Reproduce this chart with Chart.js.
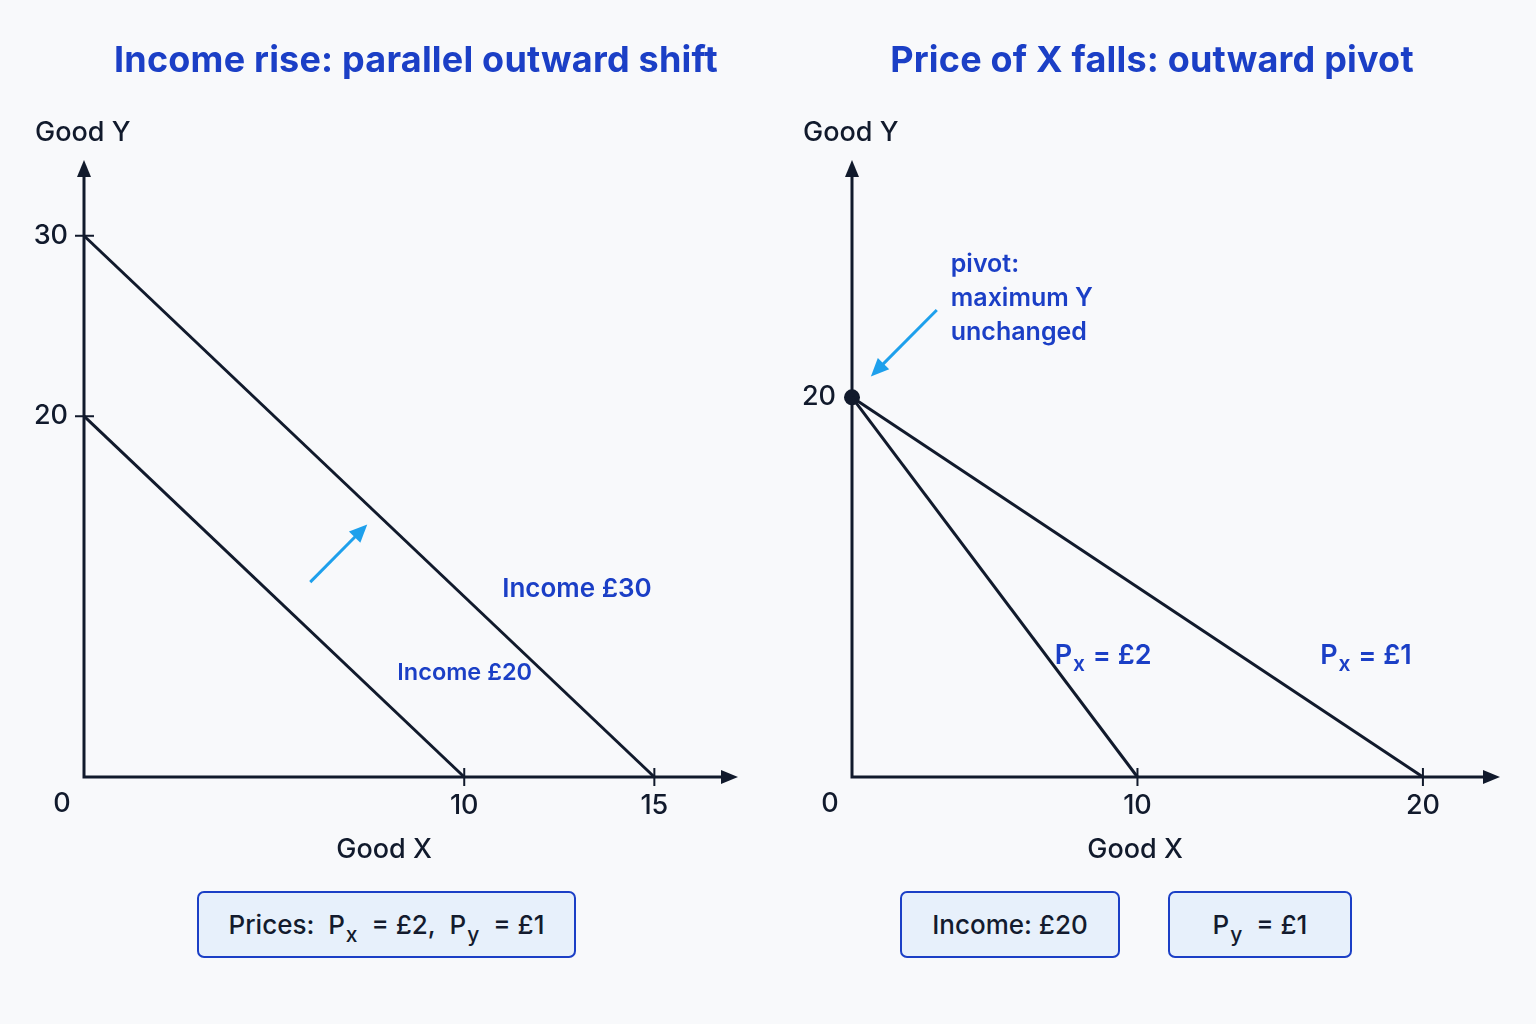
<!DOCTYPE html>
<html>
<head>
<meta charset="utf-8">
<script src="https://cdn.jsdelivr.net/npm/chart.js@4.4.1/dist/chart.umd.min.js"></script>
<style>
  html, body { margin: 0; padding: 0; background: #f8f9fb; }
  body { width: 1536px; height: 1024px; position: relative; overflow: hidden; font-family: Inter, "Noto Sans", sans-serif; }
  .panel { position: absolute; top: 0; width: 768px; height: 1024px; }
  .panel canvas { position: absolute; left: 0; top: 0; }
  .title { position: absolute; top: 37px; width: 768px; text-align: center; color: #1b3fc6; font-weight: 700; font-size: 36px; letter-spacing: 0.2px; }
  .box { position: absolute; top: 891px; height: 63px; border: 2px solid #1b3fc6; border-radius: 7px; background: #e7f0fb;
         color: #131b2e; font-size: 26px; font-weight: 500; display: flex; align-items: center; justify-content: center; box-sizing: content-box; }
  .box span { display: inline-block; white-space: nowrap; }
  .box sub { font-size: 21px; vertical-align: -8px; line-height: 0; margin-left: 1px; }
</style>
</head>
<body>

<div class="panel" style="left:0">
  <canvas id="leftChart" width="768" height="1024"></canvas>
  <div class="title" style="left:32px">Income rise: parallel outward shift</div>
  <div class="box" style="left:197px; width:375px;"><span>Prices:&nbsp; P<sub>x</sub>&nbsp; =&nbsp;£2,&nbsp; P<sub>y</sub>&nbsp; =&nbsp;£1</span></div>
</div>

<div class="panel" style="left:768px">
  <canvas id="rightChart" width="768" height="1024"></canvas>
  <div class="title" style="left:0px">Price of X falls: outward pivot</div>
  <div class="box" style="left:132px; width:216px;"><span>Income: £20</span></div>
  <div class="box" style="left:400px; width:180px;"><span>P<sub>y</sub>&nbsp; =&nbsp;£1</span></div>
</div>

<script>
// Budget lines: income shift (left) and price pivot (right)

// ====== DATA ======

// left panel: Px = £2, Py = £1
const leftXTicks = [10, 15];
const leftYTicks = [20, 30];
const income20X = [0, 10];
const income20Y = [20, 0];
const income30X = [0, 15];
const income30Y = [30, 0];

// right panel: income £20, Py = £1
const rightXTicks = [10, 20];
const rightYTicks = [20];
const px2X = [0, 10];
const px2Y = [20, 0];
const px1X = [0, 20];
const px1Y = [20, 0];
const pivotPoint = { x: 0, y: 20 };

// ====== STYLE ======

const INK = '#111a2c';
const BLUE = '#1b3fc6';
const ARROW = '#1ea0ec';
const FONT = 'Inter, "Noto Sans", sans-serif';

const toPoints = (xs, ys) => xs.map((x, i) => ({ x, y: ys[i] }));

function lineSet(xs, ys) {
  return {
    data: toPoints(xs, ys),
    showLine: true,
    borderColor: INK,
    borderWidth: 3,
    pointRadius: 0,
    clip: false,
  };
}

function arrowHead(ctx, x1, y1, x2, y2, len, half, color) {
  const a = Math.atan2(y2 - y1, x2 - x1);
  ctx.fillStyle = color;
  ctx.beginPath();
  ctx.moveTo(x2, y2);
  ctx.lineTo(x2 - len * Math.cos(a) + half * Math.sin(a), y2 - len * Math.sin(a) - half * Math.cos(a));
  ctx.lineTo(x2 - len * Math.cos(a) - half * Math.sin(a), y2 - len * Math.sin(a) + half * Math.cos(a));
  ctx.closePath();
  ctx.fill();
}

// "P" with a subscript, then the rest
function subLabel(ctx, x, y, main, sub, rest, size) {
  ctx.textAlign = 'left';
  ctx.textBaseline = 'middle';
  ctx.font = `600 ${size}px ${FONT}`;
  ctx.fillText(main, x, y);
  let cx = x + ctx.measureText(main).width;
  ctx.font = `600 ${Math.round(size * 0.78)}px ${FONT}`;
  ctx.fillText(sub, cx + 1, y + size * 0.35);
  cx += ctx.measureText(sub).width + 2;
  ctx.font = `600 ${size}px ${FONT}`;
  ctx.fillText(rest, cx, y);
}

// axes, tick marks, tick labels, annotations — all placed through the chart scales
const axesPlugin = {
  id: 'econAxes',
  beforeDatasetsDraw(chart, args, opts) {
    const { ctx, scales: { x, y } } = chart;
    const ox = x.getPixelForValue(0), oy = y.getPixelForValue(0);
    const top = chart.chartArea.top, right = chart.chartArea.right;
    ctx.save();
    ctx.strokeStyle = INK;
    ctx.lineWidth = 3;
    ctx.beginPath();
    ctx.moveTo(ox, oy + 1.5);
    ctx.lineTo(ox, top + 12);
    ctx.moveTo(ox - 1.5, oy);
    ctx.lineTo(right - 12, oy);
    ctx.stroke();
    arrowHead(ctx, ox, oy, ox, top, 17, 7, INK);
    arrowHead(ctx, ox, oy, right, oy, 17, 7, INK);

    ctx.lineWidth = 2;
    ctx.beginPath();
    opts.yTicks.forEach(v => {
      const py = y.getPixelForValue(v);
      if (opts.yTickMarks) { ctx.moveTo(ox - 9, py); ctx.lineTo(ox + 10, py); }
    });
    opts.xTicks.forEach(v => {
      const px = x.getPixelForValue(v);
      ctx.moveTo(px, oy - 9); ctx.lineTo(px, oy + 9);
    });
    ctx.stroke();

    ctx.fillStyle = INK;
    ctx.font = `500 27px ${FONT}`;
    ctx.textBaseline = 'middle';
    ctx.textAlign = 'right';
    opts.yTicks.forEach(v => ctx.fillText(String(v), ox - 16, y.getPixelForValue(v)));
    ctx.textAlign = 'center';
    opts.xTicks.forEach(v => ctx.fillText(String(v), x.getPixelForValue(v), oy + 29));
    ctx.fillText('0', ox - 22, oy + 27);
    ctx.fillText('Good X', opts.xTitleX, oy + 73);
    ctx.textAlign = 'left';
    ctx.fillText('Good Y', ox - 49, top - 27);
    ctx.restore();
  },
  afterDatasetsDraw(chart, args, opts) {
    const { ctx, scales: { x, y } } = chart;
    ctx.save();
    // blue annotation arrow
    const a = opts.arrow;
    const x1 = x.getPixelForValue(a[0].x), y1 = y.getPixelForValue(a[0].y);
    const x2 = x.getPixelForValue(a[1].x), y2 = y.getPixelForValue(a[1].y);
    ctx.strokeStyle = ARROW;
    ctx.lineWidth = 3;
    ctx.beginPath();
    ctx.moveTo(x1, y1);
    const ang = Math.atan2(y2 - y1, x2 - x1);
    ctx.lineTo(x2 - 12 * Math.cos(ang), y2 - 12 * Math.sin(ang));
    ctx.stroke();
    arrowHead(ctx, x1, y1, x2, y2, 18, 8, ARROW);

    // line labels
    ctx.fillStyle = BLUE;
    opts.labels.forEach(l => {
      const px = x.getPixelForValue(l.x), py = y.getPixelForValue(l.y);
      if (l.sub) {
        subLabel(ctx, px, py, l.text, l.sub, l.rest, l.size);
      } else {
        ctx.font = `600 ${l.size}px ${FONT}`;
        ctx.textAlign = 'left';
        ctx.textBaseline = 'middle';
        l.text.split('\n').forEach((t, i) => ctx.fillText(t, px, py + i * 34));
      }
    });
    ctx.restore();
  }
};

Chart.defaults.font.family = FONT;

new Chart(document.getElementById('leftChart'), {
  type: 'scatter',
  data: {
    datasets: [lineSet(income20X, income20Y), lineSet(income30X, income30Y)]
  },
  options: {
    responsive: false,
    animation: false,
    devicePixelRatio: 1,
    layout: { padding: { left: 84, top: 160, right: 30, bottom: 247 } },
    plugins: {
      legend: { display: false },
      tooltip: { enabled: false },
      econAxes: {
        xTicks: leftXTicks,
        yTicks: leftYTicks,
        yTickMarks: true,
        xTitleX: 384,
        arrow: [{ x: 5.95, y: 10.8 }, { x: 7.45, y: 14.0 }],
        labels: [
          { text: 'Income £30', x: 11.0, y: 10.4, size: 26 },
          { text: 'Income £20', x: 8.24, y: 5.76, size: 23.5 },
        ]
      }
    },
    scales: {
      x: { type: 'linear', display: false, min: 0, max: 17.2 },
      y: { type: 'linear', display: false, min: 0, max: 34.2 }
    }
  },
  plugins: [axesPlugin]
});

new Chart(document.getElementById('rightChart'), {
  type: 'scatter',
  data: {
    datasets: [
      lineSet(px2X, px2Y),
      lineSet(px1X, px1Y),
      { data: [pivotPoint], pointRadius: 8, pointBackgroundColor: INK, pointBorderWidth: 0, clip: false }
    ]
  },
  options: {
    responsive: false,
    animation: false,
    devicePixelRatio: 1,
    layout: { padding: { left: 84, top: 160, right: 36, bottom: 247 } },
    plugins: {
      legend: { display: false },
      tooltip: { enabled: false },
      econAxes: {
        xTicks: rightXTicks,
        yTicks: rightYTicks,
        yTickMarks: false,
        xTitleX: 367,
        arrow: [{ x: 2.97, y: 24.6 }, { x: 0.66, y: 21.1 }],
        labels: [
          { text: 'P', sub: 'x', rest: ' = £2', x: 7.1, y: 6.4, size: 27 },
          { text: 'P', sub: 'x', rest: ' = £1', x: 16.4, y: 6.4, size: 27 },
          { text: 'pivot:\nmaximum Y\nunchanged', x: 3.46, y: 27.0, size: 25 },
        ]
      }
    },
    scales: {
      x: { type: 'linear', display: false, min: 0, max: 22.7 },
      y: { type: 'linear', display: false, min: 0, max: 32.5 }
    }
  },
  plugins: [axesPlugin]
});
</script>
</body>
</html>
